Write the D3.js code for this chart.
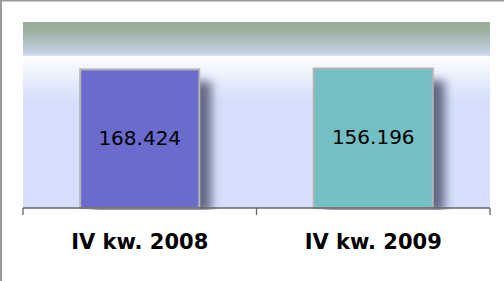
<!DOCTYPE html>
<html>
<head>
<meta charset="utf-8">
<script src="https://cdn.jsdelivr.net/npm/d3@7"></script>
<style>
  body { margin: 0; background: #fff; }
  svg { display: block; }
</style>
</head>
<body>
<div id="chart"></div>
<script>
// Categories and the values printed on the bars.
const categories = ["IV kw. 2008", "IV kw. 2009"];
const labels = ["168.424", "156.196"];
// Plotted bar levels as drawn in the picture (share of the plot height, in %).
const levels = [74.5, 75];
const colors = ["#6b6bcd", "#73bfc4"];

const width = 504;
const height = 281;
const margin = {top: 22, right: 14, bottom: 73, left: 23};

const svg = d3.select("#chart")
  .append("svg")
    .attr("width", width)
    .attr("height", height);

const defs = svg.append("defs");

// Plot background: green-grey to pale blue, a white band, then pale blue.
const bg = defs.append("linearGradient")
    .attr("id", "bg")
    .attr("x1", 0).attr("y1", 0).attr("x2", 0).attr("y2", 1);
[
  [0, "#94ad94"],
  [0.06, "#a2b4a8"],
  [0.17, "#c6d2e6"],
  [0.18, "#d4dffa"],
  [0.185, "#ffffff"],
  [0.22, "#f7f9fe"],
  [0.42, "#d5dffb"],
  [1, "#d5dffb"]
].forEach(([o, c]) => bg.append("stop").attr("offset", o).attr("stop-color", c));

// Soft shadow behind bars.
const shadow = defs.append("filter")
    .attr("id", "shadow")
    .attr("x", "-50%").attr("y", "-50%")
    .attr("width", "200%").attr("height", "200%");
shadow.append("feGaussianBlur").attr("stdDeviation", 5);

const x = d3.scaleBand()
    .domain(categories)
    .range([margin.left, width - margin.right]);

const y = d3.scaleLinear()
    .domain([0, 100])
    .range([height - margin.bottom, margin.top]);

// Outer frame (left and top edges visible).
svg.append("path")
    .attr("d", `M1,${height} V0.5 H${width}`)
    .attr("fill", "none")
    .attr("stroke", "#9a9a9a")
    .attr("stroke-width", 2);

svg.append("rect")
    .attr("x", margin.left)
    .attr("y", margin.top)
    .attr("width", width - margin.left - margin.right)
    .attr("height", height - margin.top - margin.bottom)
    .attr("fill", "url(#bg)");

const barW = x.bandwidth() * 0.51;
const bx = d => x(d) + (x.bandwidth() - barW) / 2;

const data = categories.map((c, i) => ({c, label: labels[i], level: levels[i], color: colors[i]}));

// Shadows
svg.append("g")
  .selectAll("rect")
  .data(data)
  .join("rect")
    .attr("x", d => bx(d.c) + 12)
    .attr("y", d => y(d.level) + 12)
    .attr("width", barW)
    .attr("height", d => y(0) - y(d.level) - 8)
    .attr("fill", "#4f5570")
    .attr("opacity", 0.85)
    .attr("filter", "url(#shadow)");

// Re-cover shadow spill below the axis with white.
svg.append("rect")
    .attr("x", margin.left)
    .attr("y", y(0) + 2)
    .attr("width", width - margin.left - margin.right + 1)
    .attr("height", 30)
    .attr("fill", "#fff");

// Bars
svg.append("g")
  .selectAll("rect")
  .data(data)
  .join("rect")
    .attr("x", d => bx(d.c))
    .attr("y", d => y(d.level))
    .attr("width", barW)
    .attr("height", d => y(0) - y(d.level))
    .attr("fill", d => d.color)
    .attr("stroke", "#b3b3b3")
    .attr("stroke-width", 2);

// Value labels
svg.append("g")
  .selectAll("text")
  .data(data)
  .join("text")
    .attr("x", d => x(d.c) + x.bandwidth() / 2)
    .attr("y", d => (y(d.level) + y(0)) / 2 + 6)
    .attr("text-anchor", "middle")
    .attr("font-family", "Verdana, 'DejaVu Sans', sans-serif")
    .attr("font-size", 20)
    .attr("fill", "#000")
    .text(d => d.label);

// Category axis
const axis = svg.append("g")
    .attr("transform", `translate(0,${y(0)})`)
    .call(d3.axisBottom(x).tickSize(0).tickPadding(0).tickFormat(""));
axis.select(".domain").attr("stroke", "#666").attr("stroke-width", 1.3)
    .attr("d", `M${margin.left},0H${width - margin.right}`);
axis.selectAll(".tick").remove();

const edges = categories.map(c => x(c)).concat([width - margin.right]);
axis.selectAll("line.edge")
  .data(edges)
  .join("line")
    .attr("class", "edge")
    .attr("x1", d => d).attr("x2", d => d)
    .attr("y1", 0).attr("y2", 7)
    .attr("stroke", "#666")
    .attr("stroke-width", 1.3);

svg.append("g")
  .selectAll("text")
  .data(categories)
  .join("text")
    .attr("x", d => x(d) + x.bandwidth() / 2)
    .attr("y", y(0) + 41)
    .attr("text-anchor", "middle")
    .attr("font-family", "'DejaVu Sans', Verdana, sans-serif")
    .attr("font-weight", "bold")
    .attr("font-size", 21)
    .attr("fill", "#000")
    .text(d => d);
</script>
</body>
</html>
